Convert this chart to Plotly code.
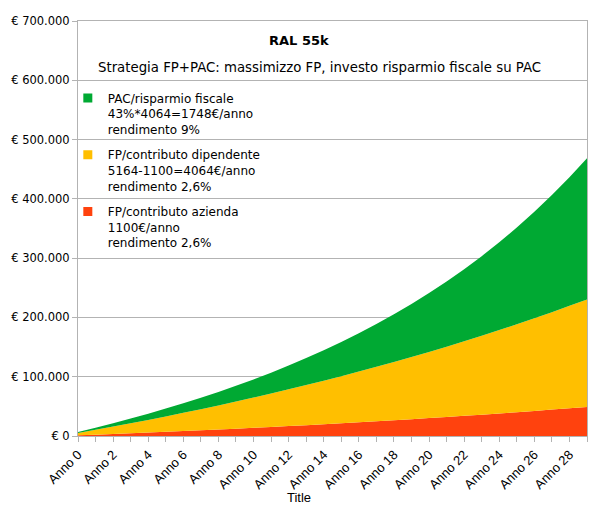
import plotly.graph_objects as go

years = list(range(30))
tick_years = list(range(0, 29, 2))
tick_labels = ["Anno %d" % y for y in tick_years]

azienda = [1100, 2229, 3387, 4575, 5793, 7044, 8327, 9644, 10995, 12380,
           13802, 15261, 16758, 18294, 19869, 21486, 23145, 24846, 26592, 28384,
           30222, 32107, 34042, 36027, 38064, 40154, 42298, 44498, 46754, 49070]
dipendente = [4064, 8234, 12512, 16901, 21404, 26025, 30766, 35630, 40620, 45740,
              50993, 56383, 61913, 67587, 73408, 79381, 85509, 91796, 98246, 104865,
              111656, 118622, 125771, 133105, 140630, 148350, 156271, 164398, 172736, 181292]
pac = [1748, 3653, 5730, 7994, 10461, 13151, 16082, 19278, 22761, 26557,
       30695, 35206, 40123, 45482, 51323, 57690, 64630, 72195, 80440, 89428,
       99224, 109901, 121542, 134229, 148057, 163130, 179560, 197469, 216989, 238266]

names = ["FP/contributo azienda<br>1100€/anno<br>rendimento 2,6%",
         "FP/contributo dipendente<br>5164-1100=4064€/anno<br>rendimento 2,6%",
         "PAC/risparmio fiscale<br>43%*4064=1748€/anno<br>rendimento 9%"]
colors = ["#ff420e", "#ffbf00", "#00a933"]
series = [azienda, dipendente, pac]

FONT = "DejaVu Sans"
fig = go.Figure()
for vals, col in zip(series, colors):
    fig.add_trace(go.Scatter(x=years, y=vals, stackgroup="one", mode="none",
                             fillcolor=col, showlegend=False, hoverinfo="skip"))
# legend entries, top to bottom: PAC, dipendente, azienda
for i, k in enumerate([2, 1, 0]):
    fig.add_trace(go.Scatter(x=[None], y=[None], mode="markers", name=names[k],
                             legendgroup="g%d" % i,
                             marker=dict(symbol="square", size=9, color=colors[k])))

fig.update_layout(
    width=598, height=506,
    margin=dict(l=78, r=11, t=21, b=70),
    paper_bgcolor="white", plot_bgcolor="white",
    separators=",.",
    font=dict(family=FONT, size=12, color="#000000"),
    showlegend=True,
    legend=dict(x=-0.02, y=0.849, xanchor="left", yanchor="top",
                traceorder="grouped", tracegroupgap=7,
                bgcolor="rgba(0,0,0,0)", valign="top",
                font=dict(family=FONT, size=12)),
    xaxis=dict(range=[0, 29], tickmode="array", tickvals=tick_years, ticktext=tick_labels,
               tickangle=-45, ticks="outside", ticklen=5, tickcolor="#b3b3b3",
               minor=dict(dtick=1, ticks="outside", ticklen=5, tickcolor="#b3b3b3"),
               showgrid=False, showline=True, linecolor="#b3b3b3", mirror=True,
               zeroline=False,
               tickfont=dict(family="Liberation Sans", size=13)),
    yaxis=dict(range=[0, 700000], dtick=100000, tickprefix="€ ", tickformat=",d",
               ticks="outside", ticklen=5, tickcolor="#b3b3b3",
               showgrid=True, gridcolor="#b3b3b3", gridwidth=1,
               showline=True, linecolor="#b3b3b3", mirror=True, zeroline=False,
               tickfont=dict(family=FONT, size=11.5)),
    annotations=[
        dict(text="<b>RAL 55k</b>", xref="paper", yref="paper", x=0.434, y=0.954,
             xanchor="center", yanchor="middle", showarrow=False,
             font=dict(family=FONT, size=13)),
        dict(text="Strategia FP+PAC: massimizzo FP, investo risparmio fiscale su PAC",
             xref="paper", yref="paper", x=0.475, y=0.889,
             xanchor="center", yanchor="middle", showarrow=False,
             font=dict(family=FONT, size=13.3)),
        dict(text="Title", xref="paper", yref="paper", x=0.434, y=-0.147,
             xanchor="center", yanchor="middle", showarrow=False,
             font=dict(family="Liberation Sans", size=13)),
    ],
)

fig.write_html("out.html", config={"displayModeBar": False},
               post_script="document.body.style.margin='0px';document.body.style.overflow='hidden';")
